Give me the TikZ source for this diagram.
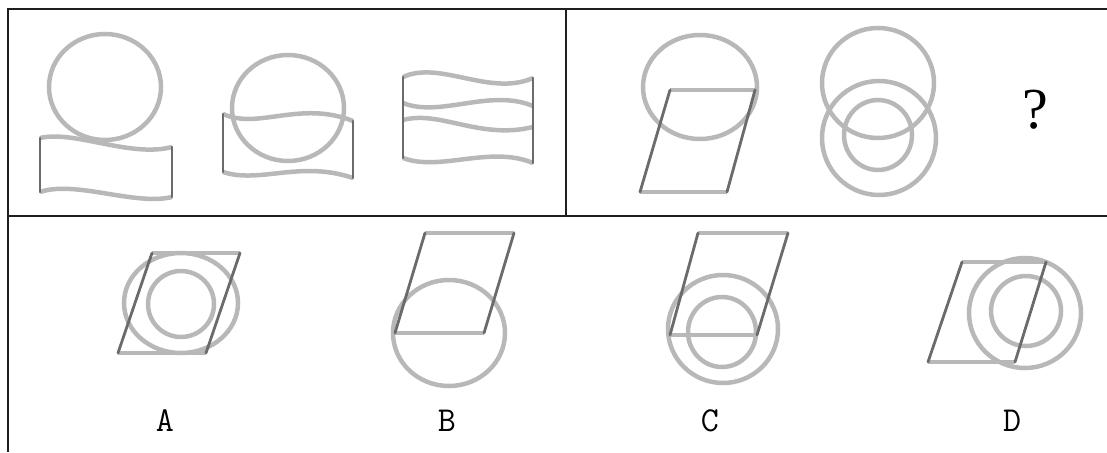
\documentclass[tikz,border=0pt]{standalone}
\usepackage{fontspec}
\newfontfamily\qfont{Liberation Serif}
\begin{document}
\begin{tikzpicture}[x=1pt,y=-1pt,
  frame/.style={draw=black!88, line width=2.2pt},
  soft/.style={draw=black!28, line width=4.5pt},
  dark/.style={draw=black!58, line width=2.8pt, line cap=round},
  lbl/.style={font=\ttfamily\fontsize{35}{35}\selectfont, inner sep=0pt},
  qmark/.style={font=\qfont\fontsize{58}{58}\selectfont, inner sep=0pt}]
\useasboundingbox (0,0) rectangle (1107,452);
% frame
\draw[frame] (1107,9) -- (8,9) -- (8,452);
\draw[frame] (8,216) -- (1107,216);
\draw[frame] (566,9) -- (566,216);
% ---- top left, figure 1
\draw[soft] (105,87) ellipse [x radius=56, y radius=53];
\draw[soft] (40,138) .. controls (75,130) and (130,158) .. (172,147);
\draw[soft] (40,192) .. controls (75,180) and (135,206) .. (172,197);
\draw[dark] (40,138) -- (40,192);
\draw[dark] (172,147) -- (172,197);
% ---- figure 2
\draw[soft] (288,108) ellipse [x radius=56, y radius=53];
\draw[soft] (223,114) .. controls (258,130) and (300,100) .. (353,121);
\draw[soft] (223,172) .. controls (260,184) and (300,160) .. (353,178);
\draw[dark] (223,114) -- (223,172);
\draw[dark] (353,121) -- (353,178);
% ---- figure 3
\draw[soft] (403,77) .. controls (440,60) and (490,97) .. (533,78);
\draw[soft] (403,103) .. controls (440,118) and (490,88) .. (533,106);
\draw[soft] (403,120) .. controls (440,110) and (480,140) .. (533,127);
\draw[soft] (403,158) .. controls (440,172) and (490,145) .. (533,163);
\draw[dark] (403,77) -- (403,158);
\draw[dark] (533,78) -- (533,163);
% ---- top right, figure 1
\draw[soft] (700,87) ellipse [x radius=57, y radius=52];
\draw[soft] (670,90) -- (755,90);
\draw[soft] (640,192) -- (727,192);
\draw[dark] (640,192) -- (670,90);
\draw[dark] (727,192) -- (755,90);
% ---- figure 2
\draw[soft] (878,83) ellipse [x radius=56, y radius=55];
\draw[soft] (879,138) ellipse [x radius=57, y radius=57];
\draw[soft] (878,135) ellipse [x radius=34, y radius=35];
\node[qmark] (q) at (1035,110) {?};
% ---- option A
\draw[soft] (181,303) ellipse [x radius=57, y radius=50];
\draw[soft] (181,304) ellipse [x radius=33, y radius=33];
\draw[soft] (152,253) -- (240,253);
\draw[soft] (118,353) -- (206,353);
\draw[dark] (118,353) -- (152,253);
\draw[dark] (206,353) -- (240,253);
% ---- option B
\draw[soft] (449,333) ellipse [x radius=56, y radius=53];
\draw[soft] (425,233) -- (514,233);
\draw[soft] (395,333) -- (484,333);
\draw[dark] (395,333) -- (425,233);
\draw[dark] (484,333) -- (514,233);
% ---- option C
\draw[soft] (723,329) ellipse [x radius=55, y radius=54];
\draw[soft] (722,332) ellipse [x radius=34, y radius=35];
\draw[soft] (698,233) -- (788,233);
\draw[soft] (670,335) -- (757,335);
\draw[dark] (670,335) -- (698,233);
\draw[dark] (757,335) -- (788,233);
% ---- option D
\draw[soft] (1025,313) ellipse [x radius=56, y radius=55];
\draw[soft] (1026,311) ellipse [x radius=35, y radius=35];
\draw[soft] (962,262) -- (1046,262);
\draw[soft] (928,362) -- (1015,362);
\draw[dark] (928,362) -- (962,262);
\draw[dark] (1015,362) -- (1046,262);
% labels
\node[lbl] (labA) at (165,421) {A};
\node[lbl] (labB) at (447,421) {B};
\node[lbl] (labC) at (710,421) {C};
\node[lbl] (labD) at (1012,421) {D};
\end{tikzpicture}
\end{document}
